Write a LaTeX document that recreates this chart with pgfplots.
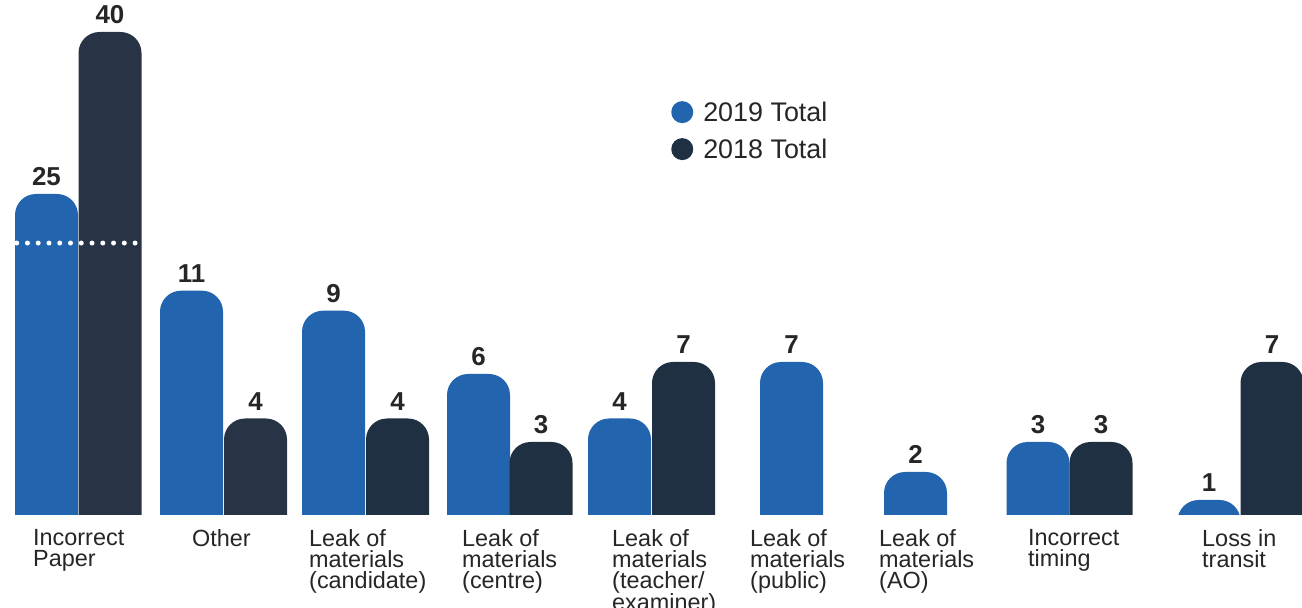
\documentclass[border=0pt]{standalone}
\usepackage{fontspec}
\setmainfont{Liberation Sans}
\usepackage{pgfplots}
\usepackage{pgfplotstable}
\pgfplotsset{compat=1.18}
\definecolor{c19}{HTML}{2364AE}
\definecolor{c18a}{HTML}{283446}
\definecolor{c18}{HTML}{1F3042}
\definecolor{txt}{HTML}{262626}

% 2019 Total (x = bar centre position, y = value)
\pgfplotstableread{
x y
46.5 25
191.5 11
333.5 9
478.5 6
619.5 4
791.5 7
915.5 2
1038 3
1209 1
}\tblA
% 2018 Total
\pgfplotstableread{
x y
110 40
255.5 4
}\tblB
\pgfplotstableread{
x y
397.5 4
541 3
683.5 7
1101 3
1272 7
}\tblC

\begin{document}
\begin{tikzpicture}
\begin{axis}[
  set layers=axis on top,
  scale only axis, width=1302bp, height=558bp,
  xmin=0, xmax=1302, ymin=-2, ymax=42.963,
  y coord trafo/.code={\pgfmathparse{45+((#1)<0?21.5*(#1):((#1)<1?15*(#1):((#1)<2?15+28*((#1)-1):((#1)<3?43+30*((#1)-2):((#1)<4?73+23.5*((#1)-3):((#1)<6?96.5+22.25*((#1)-4):((#1)<7?141+12*((#1)-6):((#1)<9?153+25.65*((#1)-7):((#1)<11?204.3+10*((#1)-9):((#1)<25?224.3+6.907*((#1)-11):321+10.8*((#1)-25)))))))))))}},
  axis line style={draw=none}, tick style={draw=none}, ytick=\empty,
  xtick={33,192,309,462,612,750,879,1028,1202},
  xticklabels={{Incorrect\\Paper},{Other},{Leak of\\materials\\(candidate)},{Leak of\\materials\\(centre)},{Leak of\\materials\\(teacher/\\examiner)},{Leak of\\materials\\(public)},{Leak of\\materials\\(AO)},{Incorrect\\timing},{Loss in\\transit}},
  xticklabel style={align=left, anchor=north west, inner sep=0pt, yshift=29bp, font=\fontsize{23.5}{21}\selectfont, text=txt},
  legend style={draw=none, fill=none, at={(0.5154,0.820)}, anchor=north west, font=\fontsize{27}{30}\selectfont, text=txt, row sep=14bp, inner sep=0pt, nodes={inner sep=1bp}, /tikz/every even column/.append style={column sep=0bp}},
  legend cell align=left,
  legend entries={2019 Total, 2018 Total},
  barstyle/.style={ybar, bar shift=0pt, bar width=63bp, draw=none, rounded corners=21bp,
    nodes near coords, point meta=explicit symbolic,
    nodes near coords style={font=\fontsize{26}{26}\bfseries\selectfont, text=txt, anchor=south, inner sep=0pt, yshift=8bp}},
]
\addplot[barstyle, fill=c19, legend image code/.code={\fill[c19] (0bp,0bp) circle (11bp); \path (20bp,0bp);}] table[x=x,y=y,meta=y]{\tblA};
\addplot[barstyle, fill=c18a, forget plot] table[x=x,y=y,meta=y]{\tblB};
\addplot[barstyle, fill=c18, legend image code/.code={\fill[c18] (0bp,0bp) circle (11bp); \path (20bp,0bp);}] table[x=x,y=y,meta=y]{\tblC};
\addplot[forget plot, white, line width=5bp, line cap=round, dash pattern=on 0bp off 10.76bp] coordinates {(16.7,17.9) (136,17.9)};
\fill[white] (rel axis cs:0,0) rectangle (axis cs:1302,0);
\end{axis}
\pgfresetboundingbox
\useasboundingbox (0bp,-50bp) rectangle (1302bp,558bp);
\end{tikzpicture}
\end{document}
